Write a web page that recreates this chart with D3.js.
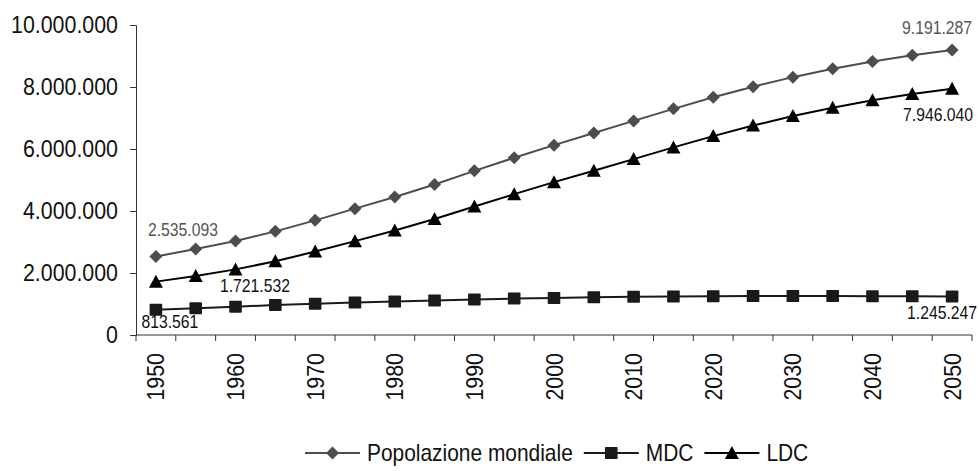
<!DOCTYPE html>
<html>
<head>
<meta charset="utf-8">
<script src="https://cdn.jsdelivr.net/npm/d3@7"></script>
<style>
  body { margin: 0; background: #fff; }
  svg text { font-family: "Liberation Sans", Arial, sans-serif; }
</style>
</head>
<body>
<svg id="chart" width="979" height="471"></svg>
<script>
'use strict';

// values in thousands (UN estimates/projections)
const years = d3.range(1950, 2051, 5);
const popolazione = [2535093, 2770753, 3031931, 3342771, 3698676, 4076080, 4451470, 4855264, 5294879, 5719045,
    6124123, 6514751, 6906558, 7295135, 7667090, 8010509, 8317707, 8587050, 8823546, 9025982, 9191287];
const mdc = [813561, 864000, 915000, 966000, 1008000, 1048000, 1083000, 1115000, 1149000, 1175000,
    1194000, 1216000, 1232000, 1244000, 1251000, 1255000, 1256000, 1256000, 1254000, 1250000, 1245247];
const ldc = [1721532, 1906753, 2116931, 2376771, 2690676, 3028080, 3368470, 3740264, 4145879, 4544045,
    4930123, 5298751, 5674558, 6051135, 6416090, 6755509, 7061707, 7331050, 7569546, 7775982, 7946040];
const yTicks = [0, 2000000, 4000000, 6000000, 8000000, 10000000];
const legendNames = ["Popolazione mondiale", "MDC", "LDC"];

const it = d3.formatLocale({ decimal: ",", thousands: ".", grouping: [3], currency: ["", "€"] });
const fmt = it.format(",d");

const svg = d3.select("#chart");
const plotLeft = 136, plotRight = 972, plotTop = 25, plotBottom = 335;

const x = d3.scaleBand().domain(years).range([plotLeft, plotRight]).padding(0);
const y = d3.scaleLinear().domain([0, 10000000]).range([plotBottom, plotTop]);
const cx = (yr) => x(yr) + x.bandwidth() / 2;

const axisColor = "#333";
const squeeze = 0.91; // the original font is tall and narrow

// y axis
const yAxis = svg.append("g")
    .attr("transform", `translate(${plotLeft},0)`)
    .call(d3.axisLeft(y).tickValues(yTicks).tickSize(6).tickFormat(fmt));
yAxis.select(".domain").attr("stroke", axisColor);
yAxis.selectAll(".tick line").attr("stroke", axisColor);
yAxis.selectAll("text")
    .attr("x", 0)
    .attr("transform", `translate(-18,0) scale(${squeeze},1)`)
    .attr("font-size", 23.5)
    .attr("fill", "#111")
    .style("font-family", "'Liberation Sans', Arial, sans-serif");

// x axis: ticks at band boundaries, labels every 10 years
const xAxis = svg.append("g").attr("transform", `translate(0,${plotBottom})`);
xAxis.append("line")
    .attr("x1", plotLeft).attr("x2", plotRight)
    .attr("stroke", axisColor);
xAxis.selectAll("line.bt")
    .data(d3.range(years.length + 1))
    .join("line")
    .attr("class", "bt")
    .attr("x1", (i) => plotLeft + i * x.step())
    .attr("x2", (i) => plotLeft + i * x.step())
    .attr("y1", 0).attr("y2", 6)
    .attr("stroke", axisColor);
xAxis.selectAll("text")
    .data(years.filter((d) => d % 10 === 0))
    .join("text")
    .attr("transform", (d) => `translate(${cx(d) + 8.5},18) rotate(-90) scale(${squeeze},1)`)
    .attr("text-anchor", "end")
    .attr("font-size", 23.5)
    .attr("fill", "#111")
    .text((d) => d);

// series
const series = [
    { name: legendNames[0], values: popolazione, color: "#4d4d4d", marker: "diamond" },
    { name: legendNames[1], values: mdc, color: "#1a1a1a", marker: "square" },
    { name: legendNames[2], values: ldc, color: "#000", marker: "triangle" },
];

function markerPath(kind) {
    if (kind === "diamond") return "M0,-6.5L6.5,0L0,6.5L-6.5,0Z";
    if (kind === "square") return "M-5.5,-6 h11 a0.8,0.8 0 0 1 0.8,0.8 v10.4 a0.8,0.8 0 0 1 -0.8,0.8 h-11 a0.8,0.8 0 0 1 -0.8,-0.8 v-10.4 a0.8,0.8 0 0 1 0.8,-0.8Z";
    return "M0,-7L7,6L-7,6Z";
}

const line = d3.line()
    .x((d, i) => cx(years[i]))
    .y((d) => y(d));

series.forEach((s) => {
    const g = svg.append("g");
    g.append("path")
        .attr("d", line(s.values))
        .attr("fill", "none")
        .attr("stroke", s.color)
        .attr("stroke-width", 2);
    g.selectAll("path.m")
        .data(s.values)
        .join("path")
        .attr("class", "m")
        .attr("transform", (d, i) => `translate(${cx(years[i])},${y(d)})`)
        .attr("d", markerPath(s.marker))
        .attr("fill", s.color);
});

// data labels (first and last values)
const labels = [
    { v: popolazione[0], yr: 1950, dx: 27, dy: -20, color: "#555" },
    { v: ldc[0], yr: 1950, dx: 99, dy: 10, color: "#111" },
    { v: mdc[0], yr: 1950, dx: 14, dy: 18, color: "#111" },
    { v: popolazione[20], yr: 2050, dx: -15, dy: -16, color: "#555" },
    { v: ldc[20], yr: 2050, dx: -14, dy: 32, color: "#111" },
    { v: mdc[20], yr: 2050, dx: -10, dy: 23, color: "#111" },
];
svg.append("g").selectAll("text")
    .data(labels)
    .join("text")
    .attr("transform", (d) => `translate(${cx(d.yr) + d.dx},${y(d.v) + d.dy}) scale(0.9,1)`)
    .attr("text-anchor", "middle")
    .attr("font-size", 17.5)
    .attr("fill", (d) => d.color)
    .text((d) => fmt(d.v));

// legend
const legend = svg.append("g").attr("transform", "translate(305,453)");
let lx = 0;
series.forEach((s) => {
    const g = legend.append("g").attr("transform", `translate(${lx},0)`);
    g.append("line").attr("x1", 0).attr("x2", 55)
        .attr("stroke", s.color).attr("stroke-width", 2);
    g.append("path").attr("transform", "translate(27.5,0)")
        .attr("d", markerPath(s.marker)).attr("fill", s.color);
    const t = g.append("text").attr("transform", `translate(62,8) scale(${squeeze},1)`)
        .attr("font-size", 23).attr("fill", "#111").text(s.name);
    lx += 62 + t.node().getComputedTextLength() * squeeze + 11;
});
</script>
</body>
</html>
